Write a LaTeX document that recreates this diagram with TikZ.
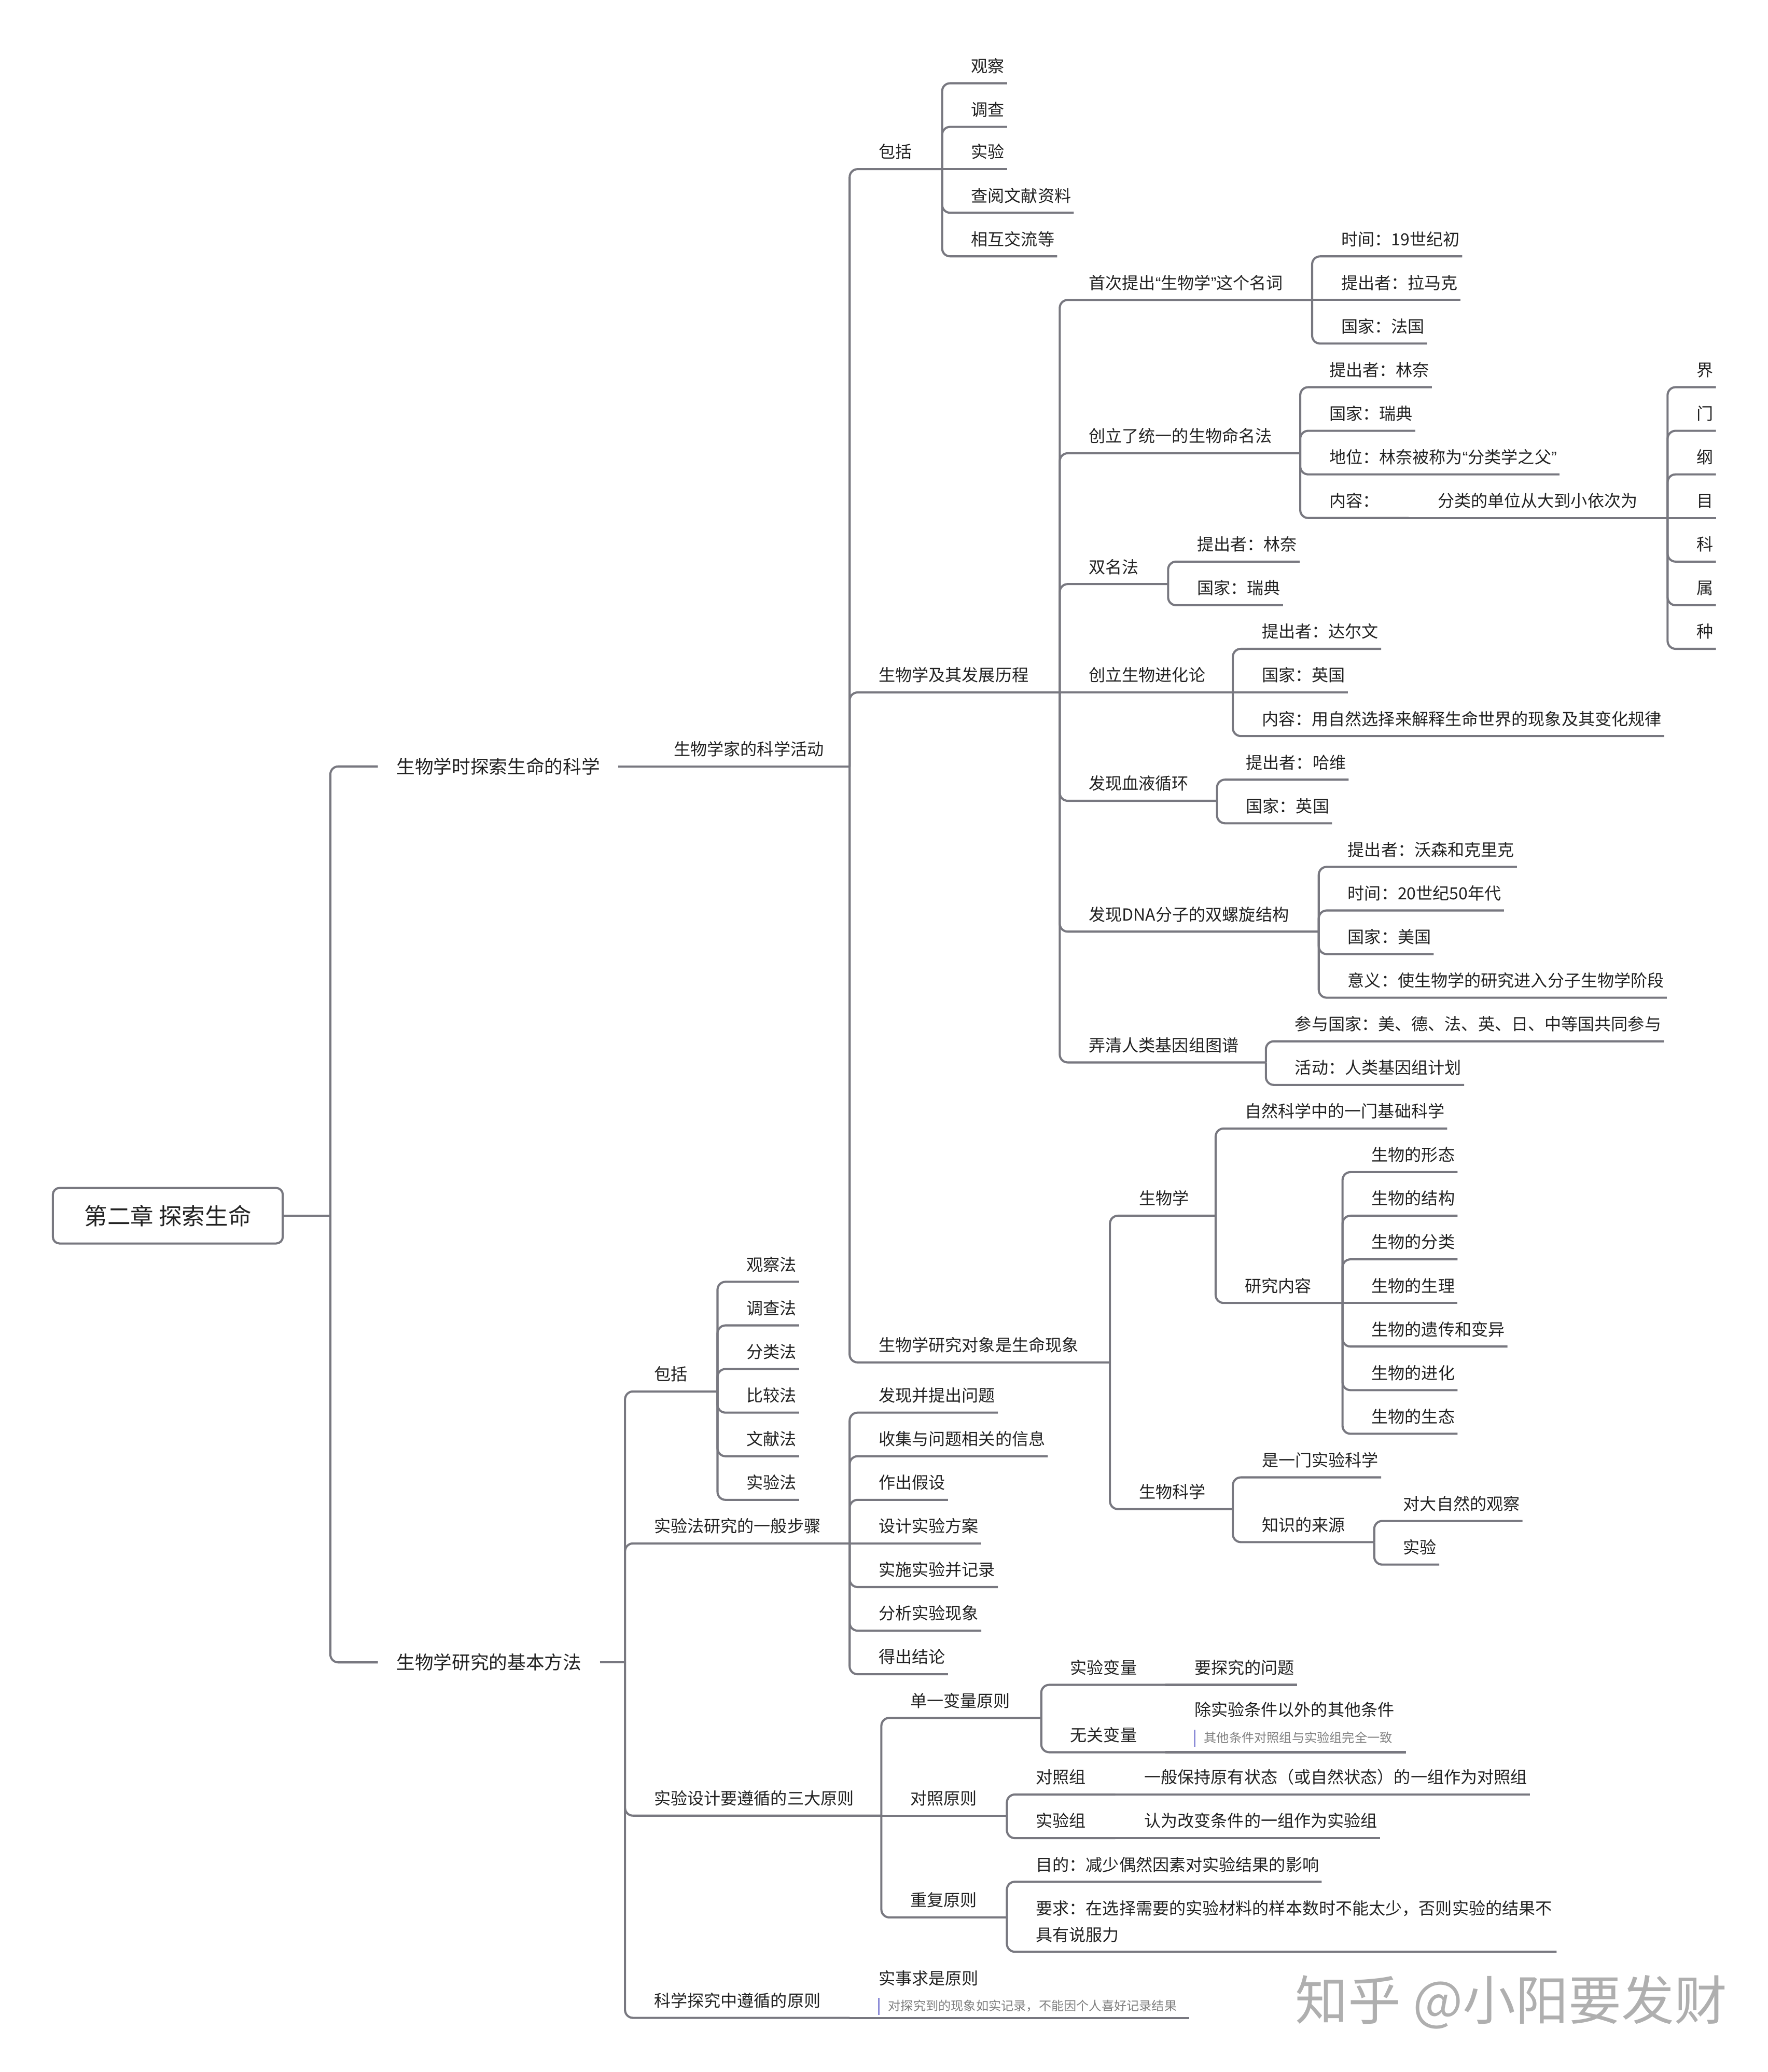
\documentclass[tikz,border=0pt]{standalone}
\usepackage{fontspec}
\setmainfont{Noto Sans CJK SC}
\newfontfamily\qf{Liberation Sans}
\definecolor{linec}{RGB}{120,120,128}
\definecolor{txtc}{RGB}{34,34,34}
\definecolor{notec}{RGB}{128,128,128}
\definecolor{barc}{RGB}{140,140,215}
\definecolor{wmc}{RGB}{175,175,175}
\tikzset{
 conn/.style={draw=linec, line width=1.6pt, rounded corners=6pt},
 leaf/.style={anchor=south west, inner xsep=2pt, inner ysep=8.3pt, outer sep=0pt, text depth=0pt, text=txtc, font=\fontsize{12.6}{15}\selectfont},
 lvl1/.style={anchor=west, inner xsep=14pt, inner ysep=4pt, outer sep=0pt, text=txtc, font=\fontsize{14}{17}\selectfont},
 rootbox/.style={draw=linec, line width=1.6pt, rounded corners=5pt, minimum width=174pt, minimum height=42pt, text=txtc, font=\fontsize{17.5}{21}\selectfont, inner sep=0pt, outer sep=0pt},
 note/.style={anchor=west, inner sep=0pt, text=notec, font=\fontsize{9.5}{11}\selectfont},
 notebar/.style={draw=barc, line width=1pt},
 wm/.style={text=wmc, font=\fontsize{40}{48}\selectfont, inner sep=0pt},
}
\newcommand{\myLq}{{\qf “}}
\newcommand{\myRq}{{\qf ”}}
% name, parent coord, parent trunk x, underline y, text
\newcommand{\mmL}[5]{\node[leaf] (#1) at (#3+20,#4) {#5}; \draw[conn] (#2) |- (#1.south east);}
\newcommand{\mmLs}[5]{\node[leaf] (#1) at (#3+20,#4) {#5}; \draw[conn] (#2) -- (#1.south east);}
% name, parent coord, parent trunk x, underline y, own trunk x, text
\newcommand{\mmP}[6]{\node[leaf] (#1) at (#3+20,#4) {#6}; \coordinate (#1T) at (#5,#4); \draw[conn] (#2) |- (#1T);}
\newcommand{\mmPs}[6]{\node[leaf] (#1) at (#3+20,#4) {#6}; \coordinate (#1T) at (#5,#4); \draw[conn] (#2) -- (#1T);}
\begin{document}
\begin{tikzpicture}[x=1pt,y=-1pt]
\fill[white] (0,0) rectangle (1338,1568);
\useasboundingbox (0,0) rectangle (1338,1568);

% root
\node[rootbox] (root) at (127,920) {第二章 探索生命};
\coordinate (rootT) at (250,920);
\draw[conn] (root.east) -- (rootT);
\node[lvl1] (la) at (286,580) {生物学时探索生命的科学};
\node[lvl1] (lb) at (286,1258) {生物学研究的基本方法};
\draw[conn] (rootT) |- (la.west);
\draw[conn] (rootT) |- (lb.west);

% upper half
\node[leaf] (a0) at (508,580) {生物学家的科学活动};
\coordinate (a0T) at (643,580);
\draw[conn] (la.east) -- (a0T);

\mmP{a1}{a0T}{643}{128}{713}{包括}
\mmL{a11}{a1T}{713}{63}{观察}
\mmL{a12}{a1T}{713}{96}{调查}
\mmLs{a13}{a1T}{713}{128}{实验}
\mmL{a14}{a1T}{713}{161}{查阅文献资料}
\mmL{a15}{a1T}{713}{194}{相互交流等}

\mmP{a2}{a0T}{643}{524}{802}{生物学及其发展历程}
\mmP{b1}{a2T}{802}{227}{993}{首次提出\myLq 生物学\myRq 这个名词}
\mmL{b11}{b1T}{993}{194}{时间：19世纪初}
\mmLs{b12}{b1T}{993}{227}{提出者：拉马克}
\mmL{b13}{b1T}{993}{260}{国家：法国}
\mmP{b2}{a2T}{802}{343}{984}{创立了统一的生物命名法}
\mmL{b21}{b2T}{984}{293}{提出者：林奈}
\mmL{b22}{b2T}{984}{326}{国家：瑞典}
\mmL{b23}{b2T}{984}{359}{地位：林奈被称为\myLq 分类学之父\myRq}
\mmP{b24}{b2T}{984}{392}{1066}{内容：}
\mmPs{b25}{b24T}{1066}{392}{1262}{分类的单位从大到小依次为}
\mmL{t1}{b25T}{1262}{293}{界}
\mmL{t2}{b25T}{1262}{326}{门}
\mmL{t3}{b25T}{1262}{359}{纲}
\mmLs{t4}{b25T}{1262}{392}{目}
\mmL{t5}{b25T}{1262}{425}{科}
\mmL{t6}{b25T}{1262}{458}{属}
\mmL{t7}{b25T}{1262}{491}{种}
\mmP{b3}{a2T}{802}{442}{884}{双名法}
\mmL{b31}{b3T}{884}{425}{提出者：林奈}
\mmL{b32}{b3T}{884}{458}{国家：瑞典}
\mmPs{b4}{a2T}{802}{524}{933}{创立生物进化论}
\mmL{b41}{b4T}{933}{491}{提出者：达尔文}
\mmLs{b42}{b4T}{933}{524}{国家：英国}
\mmL{b43}{b4T}{933}{557}{内容：用自然选择来解释生命世界的现象及其变化规律}
\mmP{b5}{a2T}{802}{606}{921}{发现血液循环}
\mmL{b51}{b5T}{921}{590}{提出者：哈维}
\mmL{b52}{b5T}{921}{623}{国家：英国}
\mmP{b6}{a2T}{802}{705}{998}{发现DNA分子的双螺旋结构}
\mmL{b61}{b6T}{998}{656}{提出者：沃森和克里克}
\mmL{b62}{b6T}{998}{689}{时间：20世纪50年代}
\mmL{b63}{b6T}{998}{722}{国家：美国}
\mmL{b64}{b6T}{998}{755}{意义：使生物学的研究进入分子生物学阶段}
\mmP{b7}{a2T}{802}{804}{958}{弄清人类基因组图谱}
\mmL{b71}{b7T}{958}{788}{参与国家：美、德、法、英、日、中等国共同参与}
\mmL{b72}{b7T}{958}{821}{活动：人类基因组计划}

\mmP{a3}{a0T}{643}{1031}{840}{生物学研究对象是生命现象}
\mmP{d1}{a3T}{840}{920}{920}{生物学}
\mmL{d11}{d1T}{920}{854}{自然科学中的一门基础科学}
\mmP{d2}{d1T}{920}{986}{1016}{研究内容}
\mmL{d21}{d2T}{1016}{887}{生物的形态}
\mmL{d22}{d2T}{1016}{920}{生物的结构}
\mmL{d23}{d2T}{1016}{953}{生物的分类}
\mmLs{d24}{d2T}{1016}{986}{生物的生理}
\mmL{d25}{d2T}{1016}{1019}{生物的遗传和变异}
\mmL{d26}{d2T}{1016}{1052}{生物的进化}
\mmL{d27}{d2T}{1016}{1085}{生物的生态}
\mmP{d3}{a3T}{840}{1142}{933}{生物科学}
\mmL{d31}{d3T}{933}{1118}{是一门实验科学}
\mmP{d4}{d3T}{933}{1167}{1040}{知识的来源}
\mmL{d41}{d4T}{1040}{1151}{对大自然的观察}
\mmL{d42}{d4T}{1040}{1184}{实验}

% lower half
\coordinate (lbT) at (473,1258);
\draw[conn] (lb.east) -- (lbT);
\mmP{e1}{lbT}{473}{1053}{543}{包括}
\mmL{e11}{e1T}{543}{970}{观察法}
\mmL{e12}{e1T}{543}{1003}{调查法}
\mmL{e13}{e1T}{543}{1036}{分类法}
\mmL{e14}{e1T}{543}{1069}{比较法}
\mmL{e15}{e1T}{543}{1102}{文献法}
\mmL{e16}{e1T}{543}{1135}{实验法}
\mmP{e2}{lbT}{473}{1168}{643}{实验法研究的一般步骤}
\mmL{e21}{e2T}{643}{1069}{发现并提出问题}
\mmL{e22}{e2T}{643}{1102}{收集与问题相关的信息}
\mmL{e23}{e2T}{643}{1135}{作出假设}
\mmLs{e24}{e2T}{643}{1168}{设计实验方案}
\mmL{e25}{e2T}{643}{1201}{实施实验并记录}
\mmL{e26}{e2T}{643}{1234}{分析实验现象}
\mmL{e27}{e2T}{643}{1267}{得出结论}
\mmP{e3}{lbT}{473}{1374}{667}{实验设计要遵循的三大原则}
\mmP{f1}{e3T}{667}{1300}{788}{单一变量原则}
\mmP{g1}{f1T}{788}{1275}{882}{实验变量}
\mmLs{g2}{g1T}{882}{1275}{要探究的问题}
\mmP{g3}{f1T}{788}{1326}{882}{无关变量}
\node[leaf] (g4) at (902,1307) {除实验条件以外的其他条件};
\node[note] (g4n) at (911,1315) {其他条件对照组与实验组完全一致};
\draw[notebar] (904,1309) -- (904,1322);
\coordinate (g4E) at (1064,1326);
\draw[conn] (g3T) -- (g4E);
\mmPs{f2}{e3T}{667}{1374}{762}{对照原则}
\mmP{h1}{f2T}{762}{1358}{844}{对照组}
\mmLs{h2}{h1T}{844}{1358}{一般保持原有状态（或自然状态）的一组作为对照组}
\mmP{h3}{f2T}{762}{1391}{844}{实验组}
\mmLs{h4}{h3T}{844}{1391}{认为改变条件的一组作为实验组}
\mmP{f3}{e3T}{667}{1451}{762}{重复原则}
\mmL{i1}{f3T}{762}{1424}{目的：减少偶然因素对实验结果的影响}
\node[leaf] (i2a) at (782,1457) {要求：在选择需要的实验材料的样本数时不能太少，否则实验的结果不};
\node[leaf] (i2) at (782,1477) {具有说服力};
\coordinate (i2E) at (1178,1477);
\draw[conn] (f3T) |- (i2E);
\mmP{e4}{lbT}{473}{1527}{643}{科学探究中遵循的原则}
\node[leaf] (j1) at (663,1510) {实事求是原则};
\node[note] (j1n) at (672,1518) {对探究到的现象如实记录，不能因个人喜好记录结果};
\draw[notebar] (665,1512) -- (665,1525);
\coordinate (j1E) at (900,1527);
\draw[conn] (e4T) -- (j1E);

% watermark
\node[wm, anchor=west] (wm) at (980,1515) {知乎 @小阳要发财};
\end{tikzpicture}
\end{document}
